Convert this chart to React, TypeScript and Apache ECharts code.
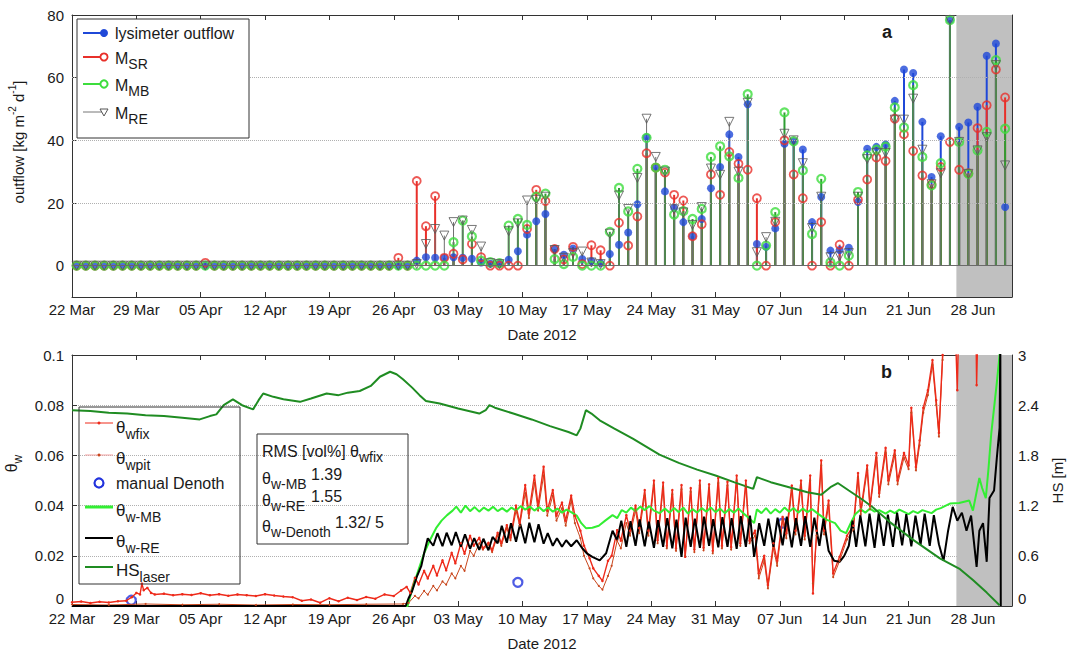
import React, { useEffect, useRef } from 'react';
import * as echarts from 'echarts';

// ---------- axis / time settings ----------
const START_UTC = Date.UTC(2012, 2, 22); // day 0 = 22 Mar 2012
const X_MAX = 102.25; // days
const SHADE_START = 96.2; // grey period start (days)
const WEEK_TICKS = [0, 7, 14, 21, 28, 35, 42, 49, 56, 63, 70, 77, 84, 91, 98];
const OUTFLOW_TICKS = [0, 20, 40, 60, 80];
const MONTHS = ['Jan', 'Feb', 'Mar', 'Apr', 'May', 'Jun', 'Jul', 'Aug', 'Sep', 'Oct', 'Nov', 'Dec'];

// ---------- panel a: daily outflow (kg m-2 d-1), one value per day from 22 Mar ----------
const lysimeterOutflow = [
  0, 0, 0, 0, 0, 0, 0, 0, 0, 0,
  0, 0, 0, 0, 0, 0, 0, 0, 0, 0,
  0, 0, 0, 0, 0, 0, 0, 0, 0, 0,
  0, 0, 0, 0, 0, 0, 0, 1.6, 2.7, 2.5,
  2.5, 2.7, 2.5, 2.2, 1.0, 0.6, 0.6, 1.9, 4.6, 9.9,
  14.2, 16.5, 5.3, 3.5, 5.5, 2.1, 1.5, 0.8, 3.7, 6.7,
  10.6, 19.6, 41.0, 31.3, 23.7, 18.5, 13.9, 9.4, 14.9, 24.7,
  31.5, 41.9, 34.7, 51.5, 6.9, 6.0, 11.9, 38.9, 39.7, 37.1,
  13.9, 21.9, 4.8, 5.0, 5.7, 20.3, 37.3, 37.9, 38.7, 52.6,
  62.6, 61.5, 45.9, 28.3, 41.3, 78.4, 44.3, 45.7, 50.7, 67.0,
  70.9, 18.7,
];
const mSR = [
  0, 0, 0, 0, 0, 0, 0, 0, 0, 0,
  0, 0, 0, 0, 0.9, 0, 0, 0, 0, 0,
  0, 0, 0, 0, 0, 0, 0, 0, 0, 0,
  0, 0, 0, 0, 0, 2.5, 0, 27.0, 12.6, 22.2,
  2.5, 3.8, 2.0, 6.9, 2.7, 0, 0, 0, 0, 11.7,
  24.2, 20.6, 5.3, 2.0, 6.0, 0.5, 6.5, 4.9, 0, 13.7,
  6.4, 15.7, 35.9, 31.3, 29.7, 22.6, 20.8, 9.4, 13.2, 29.1,
  22.6, 36.3, 32.5, 30.6, 21.5, 0, 13.9, 40.0, 29.1, 21.5,
  0, 13.9, 0, 6.7, 0, 21.0, 27.5, 34.5, 33.4, 46.9,
  41.9, 36.6, 28.8, 26.0, 31.5, 39.5, 30.6, 29.5, 43.9, 51.2,
  62.6, 53.7,
];
const mMB = [
  0, 0, 0, 0, 0, 0, 0, 0, 0, 0,
  0, 0, 0, 0, 0, 0, 0, 0, 0, 0,
  0, 0, 0, 0, 0, 0, 0, 0, 0, 0,
  0, 0, 0, 0, 0, 0, 0, 0, 0, 0,
  0, 7.5, 14.4, 9.3, 1.6, 1.1, 0.8, 12.8, 14.9, 13.0,
  22.0, 23.0, 2.1, 0.5, 2.8, 0, 0, 0, 10.8, 24.8,
  17.3, 30.9, 40.8, 31.3, 30.6, 16.3, 17.4, 14.9, 18.1, 34.7,
  38.1, 34.9, 28.0, 54.7, 0, 6.4, 17.1, 48.9, 39.7, 30.4,
  10.1, 27.7, 1.0, 0, 3.2, 23.5, 35.2, 37.0, 38.0, 50.5,
  44.1, 57.6, 34.7, 25.6, 32.7, 78.4, 39.5, 29.3, 36.8, 42.7,
  65.6, 43.7,
];
const mRE = [
  0, 0, 0, 0, 0, 0, 0, 0, 0, 0,
  0, 0, 0, 0, 0, 0, 0, 0, 0, 0,
  0, 0, 0, 0, 0, 0, 0, 0, 0, 0,
  0, 0, 0, 0, 0, 0, 0, 0.5, 6.9, 11.7,
  9.6, 13.9, 14.4, 11.4, 6.1, 0.8, 0.5, 11.0, 13.5, 20.8,
  21.0, 22.0, 5.0, 2.5, 4.0, 4.5, 1.0, 0.5, 10.2, 22.4,
  18.1, 28.0, 46.9, 34.7, 30.0, 18.0, 17.0, 13.0, 18.7, 31.0,
  29.0, 45.9, 30.0, 52.0, 4.3, 9.1, 14.0, 42.1, 40.0, 32.7,
  12.0, 22.0, 2.7, 3.0, 4.0, 22.0, 34.0, 36.0, 36.0, 46.6,
  46.6, 53.3, 37.0, 26.0, 29.5, 78.4, 39.5, 29.3, 36.8, 41.0,
  64.0, 32.0,
];

// ---------- panel b: [day since 22 Mar, value] ----------
const thetaWfix = [
  [0, 0.0015], [1, 0.0018], [2, 0.0012], [3, 0.0017], [4, 0.0014], [5, 0.0019], [5.9, 0.0021], [6.5, 0.0035],
  [7.0, 0.0052], [7.4, 0.0046], [7.6, 0.0089], [7.8, 0.0063], [8.2, 0.0072], [8.6, 0.0052], [9, 0.0046],
  [10, 0.0049], [11, 0.0043], [12, 0.0047], [13, 0.0044], [14, 0.0051], [15, 0.0043], [16, 0.0047], [17, 0.0041],
  [18, 0.0046], [19, 0.0043], [20, 0.004], [21, 0.0047], [22, 0.0042], [23, 0.0038], [24, 0.0035], [25, 0.0021],
  [26, 0.0026], [27, 0.0013], [28, 0.0031], [29, 0.0019], [30, 0.0033], [31, 0.0024], [32, 0.0036], [33, 0.0029],
  [34, 0.0046], [35, 0.004], [35.8, 0.0062], [36.4, 0.0076], [36.8, 0.0052], [37.3, 0.0112], [37.7, 0.0086],
  [38.3, 0.014], [38.7, 0.011], [39.3, 0.016], [39.7, 0.0122], [40.3, 0.0182], [40.7, 0.0142], [41.3, 0.0212],
  [41.7, 0.017], [42.3, 0.025], [42.7, 0.0208], [43.3, 0.028], [43.7, 0.024], [44.3, 0.0272], [44.7, 0.023],
  [45.3, 0.0252], [45.7, 0.0222], [46.3, 0.0292], [46.7, 0.025], [47.3, 0.0322], [47.7, 0.0272], [48.3, 0.04],
  [48.7, 0.033], [49.3, 0.0482], [49.7, 0.037], [50.3, 0.052], [50.7, 0.04], [51.3, 0.0555], [51.7, 0.038],
  [52.3, 0.0462], [52.7, 0.036], [53.3, 0.0412], [53.7, 0.034], [54.3, 0.044], [54.7, 0.036], [55.3, 0.03],
  [55.7, 0.024], [56.3, 0.019], [56.7, 0.015], [57.3, 0.012], [57.7, 0.01], [58.3, 0.018], [58.7, 0.02],
  [59.3, 0.0302], [59.7, 0.026], [60.3, 0.0362], [60.7, 0.03], [61.3, 0.04], [61.7, 0.031], [62.3, 0.0462],
  [62.7, 0.03], [63.3, 0.05], [63.7, 0.0262], [64.3, 0.0492], [64.7, 0.024], [65.3, 0.0462], [65.7, 0.023],
  [66.3, 0.0482], [66.7, 0.0196], [67.3, 0.047], [67.7, 0.0225], [68.3, 0.05], [68.7, 0.0232], [69.3, 0.0485],
  [69.7, 0.022], [70.3, 0.051], [70.7, 0.024], [71.3, 0.0495], [71.7, 0.0235], [72.3, 0.052], [72.7, 0.025],
  [73.3, 0.05], [73.7, 0.026], [74.3, 0.03], [74.7, 0.013], [75.3, 0.02], [75.7, 0.0084], [76.3, 0.025],
  [76.7, 0.018], [77.3, 0.0355], [77.7, 0.029], [78.3, 0.048], [78.7, 0.03], [79.3, 0.05], [79.7, 0.028],
  [80.3, 0.052], [80.6, 0.005], [81.0, 0.03], [81.5, 0.058], [81.8, 0.03], [82.3, 0.042], [82.8, 0.013],
  [83.5, 0.0196], [84.3, 0.028], [85.0, 0.032], [85.5, 0.053], [85.8, 0.038], [86.5, 0.056], [86.8, 0.04],
  [87.5, 0.061], [87.8, 0.045], [88.5, 0.063], [88.8, 0.05], [89.5, 0.062], [89.8, 0.05], [90.5, 0.061],
  [91.0, 0.056], [91.3, 0.079], [91.8, 0.0554], [92.2, 0.066], [92.6, 0.079], [93.1, 0.086], [93.6, 0.098],
  [94.0, 0.082], [94.3, 0.069], [94.7, 0.1], [95.0, 0.115], [96.0, 0.12], [96.3, 0.086], [96.5, 0.12],
  [98.3, 0.12], [98.4, 0.088], [98.6, 0.12], [101.2, 0.12],
];
const thetaWpit = [
  [0, 0.0006], [4, 0.0004], [8, 0.0008], [12, 0.0005], [16, 0.0007], [20, 0.0004], [24, 0.0006], [28, 0.0005],
  [32, 0.0007], [36, 0.0008], [36.6, 0.0012], [37.3, 0.004], [37.7, 0.003], [38.3, 0.006], [38.7, 0.0045],
  [39.3, 0.008], [39.7, 0.0062], [40.3, 0.0098], [40.7, 0.0085], [41.3, 0.013], [41.7, 0.011], [42.3, 0.016],
  [42.7, 0.014], [43.3, 0.022], [43.7, 0.02], [44.3, 0.025], [44.7, 0.0225], [45.3, 0.0245], [45.7, 0.0215],
  [46.3, 0.028], [46.7, 0.024], [47.3, 0.031], [47.7, 0.0262], [48.3, 0.038], [48.7, 0.032], [49.3, 0.045],
  [49.7, 0.035], [50.3, 0.049], [50.7, 0.038], [51.3, 0.052], [51.7, 0.036], [52.3, 0.044], [52.7, 0.034],
  [53.3, 0.039], [53.7, 0.032], [54.3, 0.042], [54.7, 0.033], [55.3, 0.027], [55.7, 0.02], [56.3, 0.015],
  [56.7, 0.011], [57.3, 0.008], [57.7, 0.0065], [58.3, 0.012], [58.7, 0.016], [59.3, 0.026], [59.7, 0.023],
  [60.3, 0.033], [60.7, 0.028], [61.3, 0.038], [61.7, 0.029], [62.3, 0.044], [62.7, 0.028], [63.3, 0.048],
  [63.7, 0.025], [64.3, 0.047], [64.7, 0.023], [65.3, 0.0445], [65.7, 0.022], [66.3, 0.0465], [66.7, 0.02],
  [67.3, 0.0455], [67.7, 0.0215], [68.3, 0.048], [68.7, 0.0222], [69.3, 0.047], [69.7, 0.021], [70.3, 0.049],
  [70.7, 0.023], [71.3, 0.048], [71.7, 0.0225], [72.3, 0.05], [72.7, 0.024], [73.3, 0.048], [73.7, 0.025],
  [74.3, 0.028], [74.7, 0.011], [75.3, 0.018], [75.7, 0.007], [76.3, 0.023], [76.7, 0.016], [77.3, 0.034],
  [77.7, 0.027], [78.3, 0.046], [78.7, 0.0285], [79.3, 0.048], [79.7, 0.0265], [80.3, 0.05], [80.6, 0.009],
  [81.0, 0.028], [81.5, 0.056], [81.8, 0.0285], [82.3, 0.04], [82.8, 0.0115], [83.5, 0.018], [84.3, 0.0265],
  [85.0, 0.0305], [85.5, 0.051], [85.8, 0.0365], [86.5, 0.054], [86.8, 0.0385], [87.5, 0.059], [87.8, 0.0435],
  [88.5, 0.061], [88.8, 0.0485], [89.5, 0.06], [89.8, 0.0485], [90.5, 0.059], [91.0, 0.0545], [91.3, 0.077],
  [91.8, 0.054], [92.2, 0.064], [92.6, 0.077], [93.1, 0.084], [93.6, 0.096], [94.0, 0.08], [94.3, 0.0675],
  [94.7, 0.098], [95.0, 0.115], [101.2, 0.115],
];
const manualDenoth = [[6.45, 0.0023], [48.5, 0.0094], [77.3, 0.033]];
const thetaWMB = [
  [0, 0], [36.5, 0], [36.8, 0.004], [37.3, 0.01], [37.8, 0.0156], [38.3, 0.021], [38.9, 0.026], [39.6, 0.031],
  [40.2, 0.034], [40.8, 0.0362], [41.4, 0.038], [41.8, 0.0396], [42.3, 0.0372], [42.8, 0.04], [43.3, 0.0378],
  [43.8, 0.0394], [44.3, 0.0376], [44.8, 0.0392], [45.3, 0.038], [45.8, 0.0395], [46.3, 0.0378], [46.8, 0.039],
  [47.3, 0.0376], [47.8, 0.0392], [48.3, 0.038], [48.8, 0.0398], [49.3, 0.0384], [49.8, 0.0396], [50.3, 0.038],
  [50.8, 0.0394], [51.3, 0.0378], [51.8, 0.0392], [52.3, 0.0376], [52.8, 0.0388], [53.3, 0.0372], [53.8, 0.0384],
  [54.2, 0.0376], [54.9, 0.036], [55.4, 0.033], [55.9, 0.031], [56.6, 0.0312], [57.3, 0.032], [58.0, 0.034],
  [58.8, 0.0362], [59.3, 0.035], [59.8, 0.0382], [60.3, 0.0372], [60.8, 0.0392], [61.3, 0.0378], [61.8, 0.0396],
  [62.3, 0.0382], [62.8, 0.0398], [63.3, 0.038], [63.9, 0.037], [64.5, 0.0388], [65.0, 0.0372], [65.5, 0.039],
  [66.0, 0.0374], [66.5, 0.0392], [67.0, 0.0368], [67.5, 0.0386], [68.0, 0.0372], [68.5, 0.039], [69.0, 0.0376],
  [69.5, 0.0392], [70.0, 0.0374], [70.5, 0.0388], [71.0, 0.037], [71.5, 0.0386], [72.0, 0.0372], [72.5, 0.0388],
  [73.0, 0.037], [73.7, 0.0349], [74.2, 0.033], [74.5, 0.0385], [75.0, 0.037], [75.5, 0.039], [76.0, 0.0368],
  [76.5, 0.0386], [77.0, 0.0372], [77.5, 0.0392], [78.0, 0.0376], [78.5, 0.039], [79.0, 0.0372], [79.5, 0.0388],
  [80.0, 0.0374], [80.5, 0.0386], [81.2, 0.0366], [82.0, 0.0345], [83.0, 0.033], [83.6, 0.03], [84.2, 0.029],
  [84.7, 0.033], [85.2, 0.0366], [85.8, 0.0385], [86.3, 0.0372], [86.8, 0.0388], [87.3, 0.0376], [87.8, 0.0382],
  [88.5, 0.0368], [89.0, 0.038], [89.5, 0.037], [90.0, 0.0384], [91.0, 0.0366], [91.5, 0.0378], [92.0, 0.037],
  [92.5, 0.0382], [93.5, 0.037], [94.0, 0.0384], [94.5, 0.039], [95.5, 0.0408], [96.5, 0.041], [97.6, 0.042],
  [98.0, 0.038], [98.7, 0.051], [99.0, 0.047], [99.4, 0.043], [99.7, 0.055], [100.0, 0.069], [100.6, 0.089],
  [100.9, 0.1], [101.1, 0.11],
];
const thetaWRE = [
  [0, 0], [36.3, 0], [36.6, 0.003], [37.0, 0.006], [37.5, 0.0116], [38.0, 0.016], [38.3, 0.021], [38.7, 0.027],
  [39.3, 0.024], [39.75, 0.029], [40.3, 0.0238], [40.75, 0.0292], [41.3, 0.0242], [41.75, 0.0295], [42.3, 0.0236],
  [42.75, 0.0286], [43.3, 0.0228], [43.75, 0.027], [44.3, 0.0224], [44.75, 0.0268], [45.3, 0.0222], [45.75, 0.0275],
  [46.3, 0.025], [46.75, 0.032], [47.3, 0.0252], [47.75, 0.033], [48.3, 0.0256], [48.75, 0.0328], [49.3, 0.025],
  [49.75, 0.0332], [50.3, 0.0254], [50.75, 0.0326], [51.3, 0.0248], [51.75, 0.029], [52.3, 0.024], [52.75, 0.027],
  [53.3, 0.0236], [53.75, 0.0262], [54.3, 0.0238], [54.9, 0.0262], [55.5, 0.023], [56.0, 0.021], [56.6, 0.0196],
  [57.4, 0.0182], [58.1, 0.021], [58.8, 0.03], [59.3, 0.0262], [59.75, 0.034], [60.3, 0.0236], [60.75, 0.0338],
  [61.3, 0.024], [61.75, 0.0345], [62.3, 0.0238], [62.75, 0.0336], [63.3, 0.0232], [63.75, 0.0342], [64.3, 0.0236],
  [64.75, 0.035], [65.3, 0.023], [65.75, 0.0344], [66.3, 0.0196], [66.75, 0.0352], [67.3, 0.0236], [67.75, 0.0348],
  [68.3, 0.0232], [68.75, 0.0356], [69.3, 0.024], [69.75, 0.0346], [70.3, 0.0234], [70.75, 0.0354], [71.3, 0.0236],
  [71.75, 0.035], [72.3, 0.0228], [72.75, 0.0358], [73.3, 0.0236], [73.75, 0.036], [74.2, 0.0196], [74.75, 0.033],
  [75.3, 0.024], [75.75, 0.0348], [76.3, 0.0236], [76.75, 0.0352], [77.3, 0.0242], [77.75, 0.0356], [78.3, 0.0234],
  [78.75, 0.035], [79.3, 0.024], [79.75, 0.0358], [80.3, 0.0236], [80.75, 0.0352], [81.3, 0.024], [81.75, 0.0348],
  [82.3, 0.022], [82.9, 0.018], [83.5, 0.0176], [84.0, 0.02], [84.5, 0.024], [84.9, 0.034], [85.3, 0.0236],
  [85.75, 0.0362], [86.3, 0.0238], [86.75, 0.0368], [87.3, 0.0232], [87.75, 0.037], [88.3, 0.024], [88.75, 0.0364],
  [89.3, 0.0236], [89.75, 0.0372], [90.3, 0.0242], [90.75, 0.0366], [91.3, 0.0238], [91.75, 0.036], [92.3, 0.0244],
  [92.75, 0.0368], [93.3, 0.024], [93.75, 0.0362], [94.3, 0.0246], [94.8, 0.018], [95.3, 0.03], [95.8, 0.0395],
  [96.3, 0.034], [96.8, 0.0372], [97.3, 0.03], [97.8, 0.036], [98.4, 0.0156], [98.7, 0.03], [99.1, 0.033],
  [99.5, 0.0176], [99.8, 0.043], [100.3, 0.046], [100.6, 0.059], [100.9, 0.071], [100.98, 0.105], [101.0, 0.105],
  [101.03, 0],
];
const hsLaser = [
  [0, 2.34], [2, 2.33], [4, 2.31], [6, 2.3], [8, 2.28], [10, 2.27], [12, 2.25], [13.9, 2.23], [15.0, 2.27],
  [15.7, 2.29], [16.5, 2.4], [17.5, 2.47], [18.5, 2.4], [19.7, 2.35], [20.3, 2.46], [20.8, 2.54], [21.9, 2.5],
  [23.0, 2.47], [24.8, 2.44], [26.0, 2.48], [27.7, 2.54], [29.0, 2.52], [30.0, 2.55], [31.3, 2.57], [32.5, 2.63],
  [33.5, 2.74], [34.6, 2.8], [35.3, 2.77], [36.0, 2.71], [37.0, 2.61], [37.8, 2.52], [38.5, 2.45], [40.0, 2.42],
  [42.0, 2.36], [44.3, 2.3], [45.0, 2.34], [45.4, 2.4], [46.0, 2.37], [48.0, 2.3], [50.0, 2.23], [52.0, 2.15],
  [54.0, 2.08], [54.9, 2.04], [55.3, 2.12], [55.9, 2.34], [56.5, 2.3], [57.4, 2.22], [59.0, 2.12], [61.0, 2.0],
  [63.9, 1.81], [66.0, 1.71], [68.0, 1.63], [70.0, 1.56], [72.0, 1.48], [74.1, 1.4], [74.5, 1.54], [76.0, 1.48],
  [78.0, 1.42], [80.0, 1.36], [81.5, 1.33], [82.5, 1.42], [83.3, 1.47], [84.5, 1.38], [86.0, 1.27], [87.1, 1.18],
  [89.0, 1.0], [91.5, 0.79], [94.4, 0.57], [96.6, 0.44], [98.0, 0.31], [99.5, 0.16], [100.9, 0.01],
];

// ---------- styles ----------
const FONT = 'Liberation Sans, Arial, Helvetica, sans-serif';
const BLUE = '#1f48d8';
const RED = '#e8302a';
const LIME = '#3ddd3d';
const STEM_GREEN = '#2f9e33';
const TRI_GRAY = '#555555';
const FIX_RED = '#ee2a1a';
const PIT_RED = '#c8461c';
const MB_GREEN = '#33ee33';
const HS_GREEN = '#1f8c22';
const DENOTH_BLUE = '#2233dd';
const TXT = '#1a1a1a';

const fmtDate = (v: number) => {
  const d = new Date(START_UTC + Math.round(v * 86400000));
  return String(d.getUTCDate()).padStart(2, '0') + ' ' + MONTHS[d.getUTCMonth()];
};

const daily = (arr: number[]) => arr.map((v, i) => [i + 0.5, v]);

const stemSeries = (name: string, arr: number[], color: string, width: number) => ({
  type: 'custom',
  name,
  xAxisIndex: 0,
  yAxisIndex: 0,
  silent: true,
  encode: { x: 0, y: 1 },
  data: daily(arr),
  renderItem: (_p: any, api: any) => {
    const x = api.value(0);
    const v = api.value(1);
    const a = api.coord([x, 0]);
    const b = api.coord([x, v]);
    return {
      type: 'line',
      shape: { x1: a[0], y1: a[1], x2: b[0], y2: b[1] },
      style: { stroke: color, lineWidth: width },
    };
  },
});

const markerSeries = (name: string, arr: number[], extra: any) => ({
  type: 'scatter',
  name,
  xAxisIndex: 0,
  yAxisIndex: 0,
  silent: true,
  data: daily(arr),
  ...extra,
});

const subText = (x: number, y: number, main: string, sub: string, size = 16, subSize = 14, lh = 28) => ({
  type: 'text',
  z: 100,
  style: {
    x,
    y,
    text: `{m|${main}}{s|${sub}}`,
    align: 'left',
    verticalAlign: 'middle',
    rich: {
      m: { fontSize: size, fontFamily: FONT, fill: TXT, lineHeight: lh },
      s: { fontSize: subSize, fontFamily: FONT, fill: TXT, lineHeight: subSize, verticalAlign: 'bottom' },
    },
  },
});

const plainText = (x: number, y: number, text: string, size = 16, weight = 'normal') => ({
  type: 'text',
  z: 100,
  style: { x, y, text, fontSize: size, fontFamily: FONT, fontWeight: weight, fill: TXT, align: 'left', verticalAlign: 'middle' },
});

const hLine = (x1: number, x2: number, y: number, color: string, w: number) => ({
  type: 'line', z: 100, shape: { x1, y1: y, x2, y2: y }, style: { stroke: color, lineWidth: w },
});

const baseXAxis = (gridIndex: number, position: string, labels: boolean) => ({
  type: 'value',
  gridIndex,
  min: 0,
  max: X_MAX,
  interval: 7,
  position,
  axisLine: { show: true, onZero: false, lineStyle: { color: '#333', width: 1 } },
  axisTick: { show: true, inside: true, length: 5, customValues: WEEK_TICKS, lineStyle: { color: '#333' } },
  axisLabel: labels
    ? { show: true, customValues: WEEK_TICKS, formatter: fmtDate, fontSize: 15, fontFamily: FONT, color: TXT, margin: 5 }
    : { show: false },
  splitLine: { show: false },
  name: labels ? 'Date 2012' : '',
  nameLocation: 'middle',
  nameGap: 30,
  nameTextStyle: { fontSize: 15, fontFamily: FONT, color: TXT },
});

export default function App() {
  const ref = useRef<HTMLDivElement>(null);

  useEffect(() => {
    if (!ref.current) return;
    document.body.style.margin = '0';
    const chart = echarts.init(ref.current, undefined, { renderer: 'svg' });

    const option: any = {
      animation: false,
      backgroundColor: '#ffffff',
      textStyle: { fontFamily: FONT },
      grid: [
        { left: 72, top: 15, width: 940, height: 282, outerBoundsMode: 'none' },
        { left: 72, top: 355, width: 940, height: 251, outerBoundsMode: 'none' },
      ],
      xAxis: [
        baseXAxis(0, 'bottom', true),
        baseXAxis(0, 'top', false),
        baseXAxis(1, 'bottom', true),
        baseXAxis(1, 'top', false),
      ],
      yAxis: [
        {
          type: 'value', gridIndex: 0, min: -10, max: 80, position: 'left',
          axisLine: { show: true, onZero: false, lineStyle: { color: '#333' } },
          axisTick: { show: true, inside: true, length: 5, customValues: OUTFLOW_TICKS, lineStyle: { color: '#333' } },
          axisLabel: { show: true, customValues: OUTFLOW_TICKS, fontSize: 15, fontFamily: FONT, color: TXT, margin: 8 },
          splitLine: { show: false },
          name: 'outflow [kg m{sup|-2} d{sup|-1}]',
          nameLocation: 'middle',
          nameRotate: 90,
          nameGap: 43,
          nameTextStyle: {
            fontSize: 15, fontFamily: FONT, color: TXT, lineHeight: 22, padding: [0, 0, 0, 28],
            rich: { sup: { fontSize: 10, fontFamily: FONT, color: TXT, lineHeight: 10, verticalAlign: 'top' } },
          },
        },
        {
          type: 'value', gridIndex: 0, min: -10, max: 80, position: 'right',
          axisLine: { show: true, onZero: false, lineStyle: { color: '#333' } },
          axisTick: { show: true, inside: true, length: 5, customValues: OUTFLOW_TICKS, lineStyle: { color: '#333' } },
          axisLabel: { show: false },
          splitLine: { show: false },
        },
        {
          type: 'value', gridIndex: 1, min: 0, max: 0.1, interval: 0.02, position: 'left',
          axisLine: { show: true, onZero: false, lineStyle: { color: '#333' } },
          axisTick: { show: true, inside: true, length: 5, lineStyle: { color: '#333' } },
          axisLabel: { show: true, fontSize: 15, fontFamily: FONT, color: TXT, margin: 8, verticalAlignMinLabel: 'bottom' },
          splitLine: { show: true, lineStyle: { type: 'dotted', color: '#b0b0b0', width: 1 } },
          name: 'θ{sub|w}',
          nameLocation: 'middle',
          nameRotate: 90,
          nameGap: 40,
          nameTextStyle: {
            fontSize: 16, fontFamily: FONT, color: TXT, lineHeight: 24, padding: [0, 0, 0, 34],
            rich: { sub: { fontSize: 12, fontFamily: FONT, color: TXT, lineHeight: 12, verticalAlign: 'bottom' } },
          },
        },
        {
          type: 'value', gridIndex: 1, min: 0, max: 3, interval: 0.6, position: 'right',
          axisLine: { show: true, onZero: false, lineStyle: { color: '#333' } },
          axisTick: { show: true, inside: true, length: 5, lineStyle: { color: '#333' } },
          axisLabel: { show: true, fontSize: 15, fontFamily: FONT, color: TXT, margin: 6, verticalAlignMinLabel: 'bottom' },
          splitLine: { show: false },
          name: 'HS [m]',
          nameLocation: 'middle',
          nameRotate: 90,
          nameGap: 34,
          nameTextStyle: { fontSize: 15, fontFamily: FONT, color: TXT },
        },
      ],
      series: [
        // panel a: grey period + grid lines + stem baseline
        {
          type: 'line', name: 'shadeA', xAxisIndex: 0, yAxisIndex: 0, data: [], silent: true,
          markArea: {
            silent: true,
            itemStyle: { color: '#c0c0c0' },
            data: [[{ xAxis: SHADE_START }, { xAxis: X_MAX }]],
          },
          markLine: {
            silent: true,
            symbol: ['none', 'none'],
            label: { show: false },
            lineStyle: { type: 'dotted', color: '#b0b0b0', width: 1 },
            data: [
              { yAxis: 20 }, { yAxis: 40 }, { yAxis: 60 },
              { yAxis: 0, lineStyle: { type: 'solid', color: '#6a6a6a', width: 1 } },
            ],
          },
        },
        stemSeries('lysimeterStem', lysimeterOutflow, BLUE, 2),
        markerSeries('lysimeter outflow', lysimeterOutflow, { symbol: 'circle', symbolSize: 8, itemStyle: { color: BLUE } }),
        stemSeries('MSRStem', mSR, RED, 2),
        markerSeries('M_SR', mSR, {
          symbol: 'circle', symbolSize: 8,
          itemStyle: { color: 'rgba(255,255,255,0)', borderColor: RED, borderWidth: 1.8 },
        }),
        stemSeries('MMBStem', mMB, STEM_GREEN, 2),
        markerSeries('M_MB', mMB, {
          symbol: 'circle', symbolSize: 8,
          itemStyle: { color: 'rgba(255,255,255,0)', borderColor: LIME, borderWidth: 2.2 },
        }),
        stemSeries('MREStem', mRE, '#6f6f6f', 1),
        markerSeries('M_RE', mRE, {
          symbol: 'triangle', symbolSize: 9, symbolRotate: 180,
          itemStyle: { color: 'rgba(255,255,255,0)', borderColor: TRI_GRAY, borderWidth: 1 },
        }),
        // panel b
        {
          type: 'line', name: 'shadeB', xAxisIndex: 2, yAxisIndex: 2, data: [], silent: true,
          markArea: {
            silent: true,
            itemStyle: { color: '#c0c0c0' },
            data: [[{ xAxis: SHADE_START }, { xAxis: X_MAX }]],
          },
        },
        {
          type: 'line', name: 'θwpit', xAxisIndex: 2, yAxisIndex: 2, data: thetaWpit, silent: true,
          showSymbol: true, showAllSymbol: true, symbol: 'circle', symbolSize: 2,
          itemStyle: { color: PIT_RED }, lineStyle: { color: PIT_RED, width: 1 },
        },
        {
          type: 'line', name: 'θwfix', xAxisIndex: 2, yAxisIndex: 2, data: thetaWfix, silent: true,
          showSymbol: true, showAllSymbol: true, symbol: 'circle', symbolSize: 2.5,
          itemStyle: { color: FIX_RED }, lineStyle: { color: FIX_RED, width: 1.4 },
        },
        {
          type: 'scatter', name: 'manual Denoth', xAxisIndex: 2, yAxisIndex: 2, data: manualDenoth, silent: true,
          symbol: 'circle', symbolSize: 9,
          itemStyle: { color: 'rgba(255,255,255,0)', borderColor: DENOTH_BLUE, borderWidth: 2.2 },
        },
        {
          type: 'line', name: 'θw-MB', xAxisIndex: 2, yAxisIndex: 2, data: thetaWMB, silent: true,
          symbol: 'none', lineStyle: { color: MB_GREEN, width: 2 },
        },
        {
          type: 'line', name: 'θw-RE', xAxisIndex: 2, yAxisIndex: 2, data: thetaWRE, silent: true,
          symbol: 'none', lineStyle: { color: '#000000', width: 2 },
        },
        {
          type: 'line', name: 'HSlaser', xAxisIndex: 2, yAxisIndex: 3, data: hsLaser, silent: true,
          symbol: 'none', lineStyle: { color: HS_GREEN, width: 2 },
        },
      ],
      graphic: {
        elements: [
          // panel labels
          plainText(882, 32, 'a', 18, 'bold'),
          plainText(881, 372, 'b', 18, 'bold'),
          // legend panel a
          { type: 'rect', z: 99, shape: { x: 77, y: 19, width: 172, height: 119 }, style: { fill: '#ffffff', stroke: '#333', lineWidth: 1 } },
          hLine(83, 104, 33, BLUE, 2),
          { type: 'circle', z: 100, shape: { cx: 104, cy: 33, r: 4 }, style: { fill: BLUE } },
          plainText(115, 33, 'lysimeter outflow', 16),
          hLine(83, 104, 57, RED, 2),
          { type: 'circle', z: 100, shape: { cx: 104, cy: 57, r: 3.6 }, style: { fill: '#fff', stroke: RED, lineWidth: 1.8 } },
          subText(115, 58, 'M', 'SR', 16, 14, 26),
          hLine(83, 104, 84, LIME, 2),
          { type: 'circle', z: 100, shape: { cx: 104, cy: 84, r: 3.6 }, style: { fill: '#fff', stroke: LIME, lineWidth: 2 } },
          subText(115, 85, 'M', 'MB', 16, 14, 26),
          hLine(83, 104, 112, '#777', 1),
          { type: 'polygon', z: 100, shape: { points: [[100, 109], [108, 109], [104, 116]] }, style: { fill: '#fff', stroke: TRI_GRAY, lineWidth: 1 } },
          subText(115, 113, 'M', 'RE', 16, 14, 26),
          // legend panel b
          { type: 'rect', z: 99, shape: { x: 79, y: 407, width: 161, height: 177 }, style: { fill: 'rgba(255,255,255,0)', stroke: '#333', lineWidth: 1 } },
          hLine(85, 113, 423, FIX_RED, 1),
          { type: 'circle', z: 100, shape: { cx: 99, cy: 423, r: 1.5 }, style: { fill: FIX_RED } },
          subText(116, 427, 'θ', 'wfix', 17, 14, 28),
          hLine(85, 113, 455, '#f2a0a0', 1),
          { type: 'circle', z: 100, shape: { cx: 99, cy: 455, r: 1.5 }, style: { fill: PIT_RED } },
          subText(116, 458, 'θ', 'wpit', 17, 14, 28),
          { type: 'circle', z: 100, shape: { cx: 99, cy: 483, r: 4.5 }, style: { fill: 'rgba(255,255,255,0)', stroke: DENOTH_BLUE, lineWidth: 2.2 } },
          plainText(116, 483, 'manual Denoth', 16),
          hLine(85, 113, 507, MB_GREEN, 3),
          subText(116, 510, 'θ', 'w-MB', 17, 14, 28),
          hLine(85, 113, 538, '#000', 2),
          subText(116, 541, 'θ', 'w-RE', 17, 14, 28),
          hLine(85, 113, 567, HS_GREEN, 2),
          subText(116, 570, 'HS', 'laser', 17, 14, 28),
          // RMS box
          { type: 'rect', z: 99, shape: { x: 257, y: 434, width: 151, height: 110 }, style: { fill: 'rgba(255,255,255,0)', stroke: '#333', lineWidth: 1 } },
          subText(262, 451, 'RMS [vol%] θ', 'wfix', 16, 14, 26),
          subText(262, 478, 'θ', 'w-MB', 16, 14, 26),
          plainText(311, 474, '1.39', 16),
          subText(262, 500, 'θ', 'w-RE', 16, 14, 26),
          plainText(311, 496, '1.55', 16),
          subText(262, 526, 'θ', 'w-Denoth', 16, 14, 26),
          plainText(335, 522, '1.32/ 5', 16),
        ],
      },
    };

    chart.setOption(option);
    return () => chart.dispose();
  }, []);

  return (
    <div
      ref={ref}
      style={{ position: 'absolute', left: 0, top: 0, width: 1076, height: 651, background: '#fff' }}
    />
  );
}
